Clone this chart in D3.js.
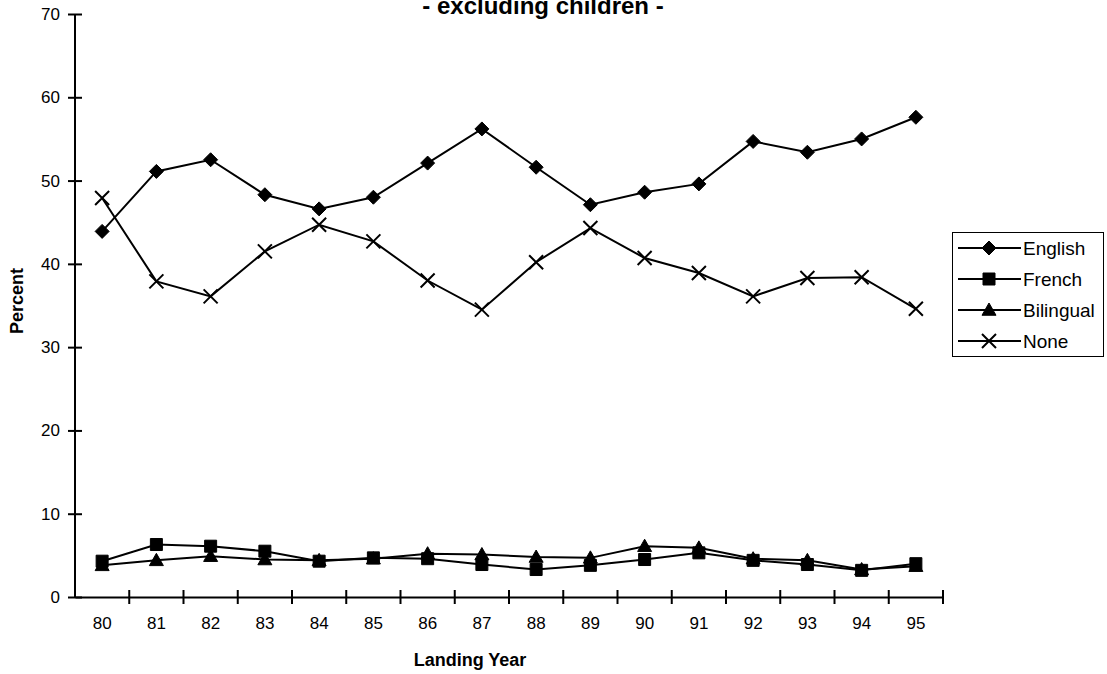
<!DOCTYPE html>
<html>
<head>
<meta charset="utf-8">
<script src="https://cdn.jsdelivr.net/npm/d3@7"></script>
<style>
  html, body { margin: 0; padding: 0; background: #fff; }
  svg { display: block; font-family: "Liberation Sans", Arial, sans-serif; }
</style>
</head>
<body>
<svg id="chart" width="1107" height="674"></svg>
<script>
// Landing years (19xx) and share of immigrants by official-language ability
const years = ["80","81","82","83","84","85","86","87","88","89","90","91","92","93","94","95"];
const english   = [43.9, 51.1, 52.5, 48.3, 46.6, 48.0, 52.1, 56.2, 51.6, 47.1, 48.6, 49.6, 54.7, 53.4, 55.0, 57.6];
const french    = [4.3, 6.3, 6.1, 5.5, 4.3, 4.7, 4.6, 3.9, 3.3, 3.8, 4.5, 5.3, 4.4, 3.9, 3.2, 4.0];
const bilingual = [3.8, 4.4, 4.9, 4.5, 4.4, 4.6, 5.2, 5.1, 4.8, 4.7, 6.1, 5.9, 4.6, 4.4, 3.3, 3.7];
const none      = [47.9, 37.9, 36.1, 41.5, 44.7, 42.7, 38.0, 34.5, 40.2, 44.3, 40.7, 38.9, 36.1, 38.3, 38.4, 34.6];
const seriesNames = ["English", "French", "Bilingual", "None"];
const yTicks = [0, 10, 20, 30, 40, 50, 60, 70];
const titleText = "- excluding children -";
const xTitle = "Landing Year";
const yTitle = "Percent";

const svg = d3.select("#chart");
const plotLeft = 75, plotRight = 943, plotTop = 14, plotBottom = 597;

const x = d3.scaleBand().domain(years).range([plotLeft, plotRight]).padding(0);
const xEdge = d3.scaleLinear().domain([0, years.length]).range([plotLeft, plotRight]);
const y = d3.scaleLinear().domain([0, 70]).range([plotBottom, plotTop]);

// marker shapes
const diamond = { draw(ctx, s) { ctx.moveTo(0, -s); ctx.lineTo(s, 0); ctx.lineTo(0, s); ctx.lineTo(-s, 0); ctx.closePath(); } };
const square = { draw(ctx, s) { ctx.rect(-s, -s, 2 * s, 2 * s); } };
const triangle = { draw(ctx, s) { ctx.moveTo(0, -s); ctx.lineTo(s, s * 0.75); ctx.lineTo(-s, s * 0.75); ctx.closePath(); } };
const cross = { draw(ctx, s) { ctx.moveTo(-s, -s); ctx.lineTo(s, s); ctx.moveTo(s, -s); ctx.lineTo(-s, s); } };

const series = [
  { name: seriesNames[0], values: english, type: diamond, size: 7, fill: true },
  { name: seriesNames[1], values: french, type: square, size: 6, fill: true },
  { name: seriesNames[2], values: bilingual, type: triangle, size: 7, fill: true },
  { name: seriesNames[3], values: none, type: cross, size: 7, fill: false }
];

// axes
const yAxis = svg.append("g")
  .attr("transform", `translate(${plotLeft},0)`)
  .call(d3.axisLeft(y).tickValues(yTicks).tickSize(7).tickPadding(8));
yAxis.select(".domain").attr("d", `M0,${plotTop}V${plotBottom}`).attr("stroke-width", 2);
yAxis.selectAll(".tick line").attr("x1", 7).attr("stroke-width", 2);
yAxis.selectAll(".tick text").attr("font-size", 17).attr("fill", "#000")
  .attr("font-family", "Liberation Sans, Arial, sans-serif");

const xAxis = svg.append("g")
  .attr("transform", `translate(0,${plotBottom})`)
  .call(d3.axisBottom(x).tickSize(0).tickPadding(20));
xAxis.select(".domain").attr("stroke-width", 2);
xAxis.selectAll(".tick text").attr("font-size", 17).attr("fill", "#000")
  .attr("font-family", "Liberation Sans, Arial, sans-serif");
xAxis.selectAll("line.edge")
  .data(d3.range(1, years.length + 1))
  .join("line")
  .attr("class", "edge")
  .attr("x1", d => xEdge(d)).attr("x2", d => xEdge(d))
  .attr("y1", -7).attr("y2", 7)
  .attr("stroke", "#000").attr("stroke-width", 2);

// series lines and markers
const cx = (d, i) => x(years[i]) + x.bandwidth() / 2;
const line = d3.line().x(cx).y(d => y(d));

series.forEach(s => {
  svg.append("path")
    .datum(s.values)
    .attr("d", line)
    .attr("fill", "none").attr("stroke", "#000").attr("stroke-width", 2);
  svg.append("g").selectAll("path")
    .data(s.values)
    .join("path")
    .attr("transform", (d, i) => `translate(${cx(d, i)},${y(d)})`)
    .attr("d", d3.symbol().type(s.type).size(s.size))
    .attr("fill", s.fill ? "#000" : "none")
    .attr("stroke", "#000").attr("stroke-width", s.fill ? 1 : 2);
});

// titles
svg.append("text").attr("x", 543).attr("y", 14).attr("text-anchor", "middle")
  .attr("font-size", 24).attr("font-weight", "bold").text(titleText);
svg.append("text").attr("x", 470).attr("y", 666).attr("text-anchor", "middle")
  .attr("font-size", 18).attr("font-weight", "bold").text(xTitle);
svg.append("text").attr("transform", "translate(23,301) rotate(-90)").attr("text-anchor", "middle")
  .attr("font-size", 18).attr("font-weight", "bold").text(yTitle);

// legend
const lg = svg.append("g");
lg.append("rect").attr("x", 952.5).attr("y", 232.5).attr("width", 151).attr("height", 124)
  .attr("fill", "#fff").attr("stroke", "#000").attr("stroke-width", 1);
series.forEach((s, i) => {
  const ly = 248 + i * 31;
  lg.append("line").attr("x1", 958).attr("x2", 1021).attr("y1", ly).attr("y2", ly)
    .attr("stroke", "#000").attr("stroke-width", 2);
  lg.append("path").attr("transform", `translate(989,${ly})`)
    .attr("d", d3.symbol().type(s.type).size(s.size))
    .attr("fill", s.fill ? "#000" : "none").attr("stroke", "#000").attr("stroke-width", s.fill ? 1 : 2);
  lg.append("text").attr("x", 1023).attr("y", ly + 6.5).attr("font-size", 19).text(s.name);
});
</script>
</body>
</html>
